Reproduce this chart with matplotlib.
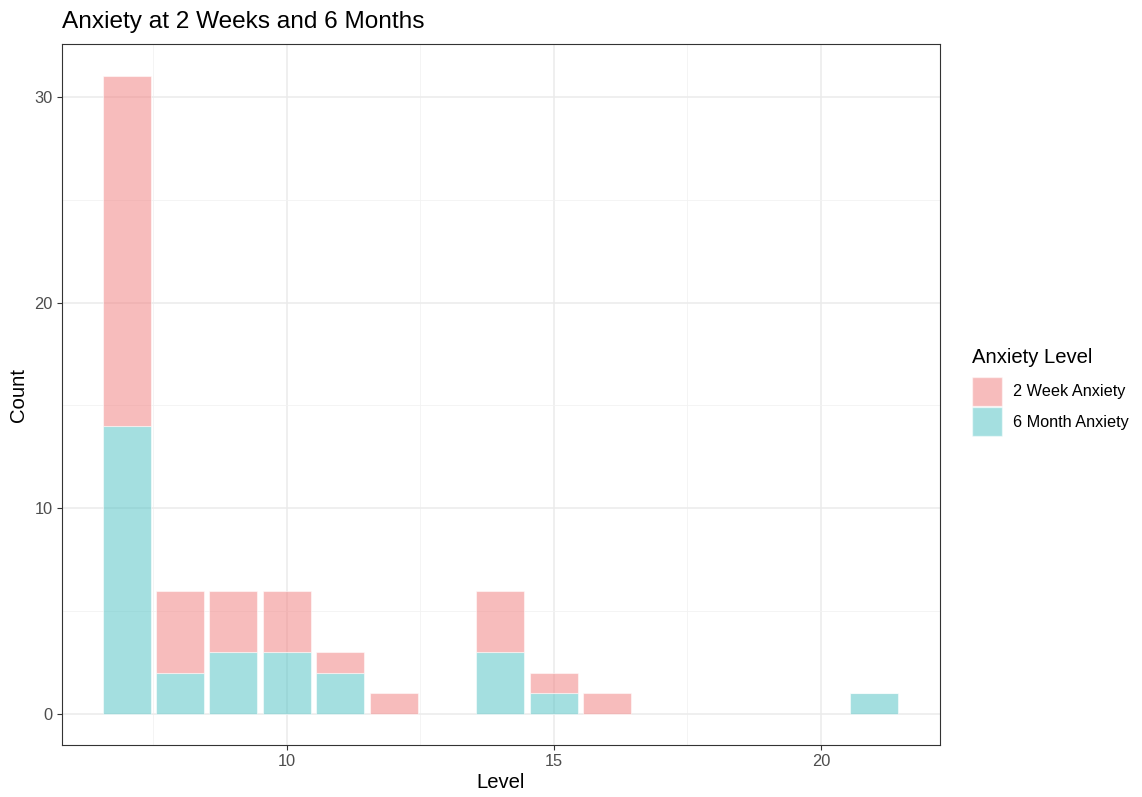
import matplotlib
matplotlib.use("Agg")
import matplotlib.pyplot as plt
import numpy as np
from matplotlib.patches import Patch

plt.rcParams['font.family'] = ['Liberation Sans', 'DejaVu Sans']

levels = [7, 8, 9, 10, 11, 12, 14, 15, 16, 21]
month6 = [14, 2, 3, 3, 2, 0, 3, 1, 0, 1]
week2 = [17, 4, 3, 3, 1, 1, 3, 1, 1, 0]

pink = '#F17B7B'
teal = '#4BC1C3'

fig = plt.figure(figsize=(11.42, 7.97), dpi=100)
ax = fig.add_axes([62/1142, 1 - 745/797, (940-62)/1142, (745-44)/797])

x = np.array(levels)
ax.bar(x, month6, width=0.9, color=teal, alpha=0.5, edgecolor='white', linewidth=0.8, zorder=3)
ax.bar(x, week2, width=0.9, bottom=month6, color=pink, alpha=0.5, edgecolor='white', linewidth=0.8, zorder=3)

ax.set_xlim(5.79, 22.23)
ax.set_ylim(-1.51, 32.57)
ax.set_xticks([10, 15, 20])
ax.set_xticks([7.5, 12.5, 17.5], minor=True)
ax.set_yticks([0, 10, 20, 30])
ax.set_yticks([5, 15, 25], minor=True)
ax.grid(which='major', color='#EBEBEB', linewidth=1.1, zorder=0)
ax.grid(which='minor', color='#F2F2F2', linewidth=0.6, zorder=0)
ax.tick_params(which='minor', length=0)
ax.tick_params(which='major', length=3.5, color='#333333', labelcolor='#4D4D4D', labelsize=11.8, pad=3)
for s in ax.spines.values():
    s.set_color('#333333')
    s.set_linewidth(0.8)

ax.set_xlabel('Level', fontsize=14.6, labelpad=3)
ax.set_ylabel('Count', fontsize=14.6, labelpad=5)
fig.text(62/1142, 1 - 28/797, 'Anxiety at 2 Weeks and 6 Months', fontsize=17.6, va='baseline', ha='left')

handles = [Patch(facecolor=pink, alpha=0.5, edgecolor='white'),
           Patch(facecolor=teal, alpha=0.5, edgecolor='white')]
leg = fig.legend(handles, ['2 Week Anxiety', '6 Month Anxiety'], title='Anxiety Level',
                 loc='upper left', bbox_to_anchor=(972/1142, 1 - 348/797),
                 frameon=False, fontsize=11.7, title_fontsize=14.6,
                 borderpad=0, borderaxespad=0,
                 handlelength=1.85, handleheight=2.35, handletextpad=0.68, labelspacing=0.12)
leg._legend_box.align = 'left'
leg._legend_box.sep = 7

fig.savefig('out.png', dpi=100)
